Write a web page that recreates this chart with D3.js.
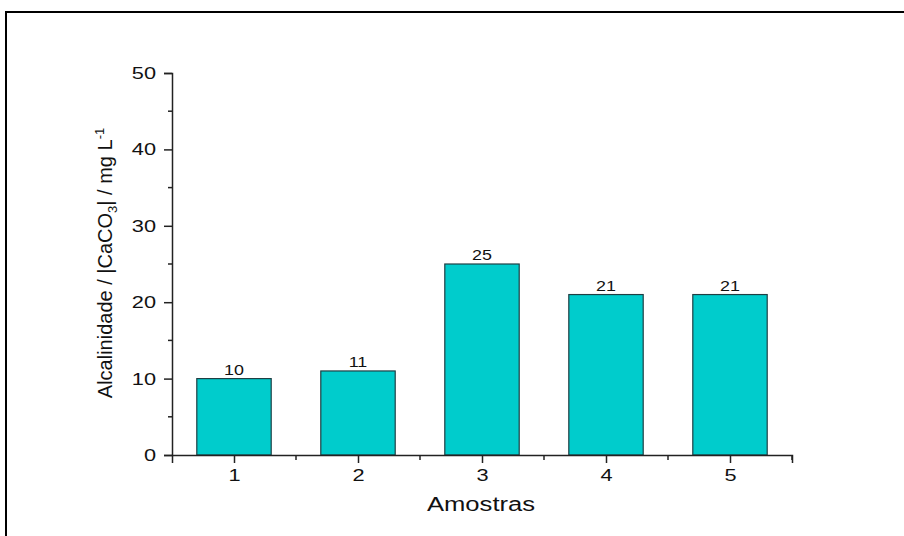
<!DOCTYPE html>
<html>
<head>
<meta charset="utf-8">
<script src="https://cdn.jsdelivr.net/npm/d3@7"></script>
<style>
  html, body { margin: 0; padding: 0; background: #fff; }
  svg { display: block; }
  text { font-family: "Liberation Sans", Arial, sans-serif; fill: #111; }
</style>
</head>
<body>
<svg id="chart" width="904" height="536"></svg>
<script>
// Alkalinity per sample
const samples = [1, 2, 3, 4, 5];
const alkalinity = [10, 11, 25, 21, 21];
const yTicks = [0, 10, 20, 30, 40, 50];

const svg = d3.select("#chart");
const W = 904, H = 536;
const STRETCH = 1.28; // wide lettering used throughout the figure

// outer frame
svg.append("path")
  .attr("d", `M6,${H} L6,12 L${W},12`)
  .attr("fill", "none").attr("stroke", "#000").attr("stroke-width", 2);

const plot = { left: 172, right: 792, top: 73, bottom: 455 };

const x = d3.scaleLinear().domain([0.5, 5.5]).range([plot.left, plot.right]);
const y = d3.scaleLinear().domain([0, 50]).range([plot.bottom, plot.top]);
const barW = x(1.1) - x(0.5);

const rows = samples.map((s, i) => ({ s, v: alkalinity[i] }));

// bars
svg.append("g").selectAll("rect")
  .data(rows)
  .join("rect")
  .attr("x", d => x(d.s) - barW / 2)
  .attr("y", d => y(d.v))
  .attr("width", barW)
  .attr("height", d => y(0) - y(d.v))
  .attr("fill", "#00cccc")
  .attr("stroke", "#1f3f44")
  .attr("stroke-width", 1.2);

// value labels
svg.append("g").selectAll("text")
  .data(rows)
  .join("text")
  .attr("transform", d => `translate(${x(d.s)},${y(d.v) - 4}) scale(${STRETCH},1)`)
  .attr("text-anchor", "middle")
  .attr("font-size", 14)
  .text(d => d.v);

// y axis
const yAxis = d3.axisLeft(y).tickValues(yTicks).tickSize(8).tickPadding(6).tickFormat(d3.format("d"));
const gy = svg.append("g").attr("transform", `translate(${plot.left},0)`).call(yAxis);
gy.selectAll("text")
  .attr("x", 0)
  .attr("transform", `translate(-16,0) scale(${STRETCH},1)`)
  .attr("font-size", 17).style("font-family", "Liberation Sans, Arial, sans-serif").attr("fill", "#111");
gy.select(".domain").attr("stroke", "#222").attr("stroke-width", 1.5);
gy.selectAll(".tick line").attr("stroke", "#222").attr("stroke-width", 1.5);
// minor y ticks
svg.append("g").selectAll("line")
  .data(d3.range(5, 50, 10))
  .join("line")
  .attr("x1", plot.left - 4).attr("x2", plot.left)
  .attr("y1", d => y(d)).attr("y2", d => y(d))
  .attr("stroke", "#222").attr("stroke-width", 1.5);

// x axis
const xAxis = d3.axisBottom(x).tickValues(samples).tickSize(8).tickPadding(6).tickFormat(d3.format("d"));
const gx = svg.append("g").attr("transform", `translate(0,${plot.bottom})`).call(xAxis);
gx.selectAll("text")
  .attr("transform", `scale(${STRETCH},1)`)
  .attr("font-size", 17).style("font-family", "Liberation Sans, Arial, sans-serif").attr("fill", "#111");
gx.select(".domain").attr("stroke", "#222").attr("stroke-width", 1.5);
gx.selectAll(".tick line").attr("stroke", "#222").attr("stroke-width", 1.5);
// minor x ticks
svg.append("g").selectAll("line")
  .data([1.5, 2.5, 3.5, 4.5, 5.5])
  .join("line")
  .attr("x1", d => x(d)).attr("x2", d => x(d))
  .attr("y1", plot.bottom).attr("y2", plot.bottom + 5)
  .attr("stroke", "#222").attr("stroke-width", 1.5);

// axis titles
svg.append("text")
  .attr("transform", `translate(${(plot.left + plot.right) / 2 - 1},511) scale(1.22,1)`)
  .attr("text-anchor", "middle")
  .attr("font-size", 21)
  .text("Amostras");

const yt = svg.append("text")
  .attr("transform", "translate(112,263) rotate(-90)")
  .attr("text-anchor", "middle")
  .attr("font-size", 20);
yt.append("tspan").text("Alcalinidade / |CaCO");
yt.append("tspan").attr("font-size", 13).attr("dy", 5).text("3");
yt.append("tspan").attr("dy", -5).text("| / mg L");
yt.append("tspan").attr("font-size", 13).attr("dy", -8).text("-1");
</script>
</body>
</html>
